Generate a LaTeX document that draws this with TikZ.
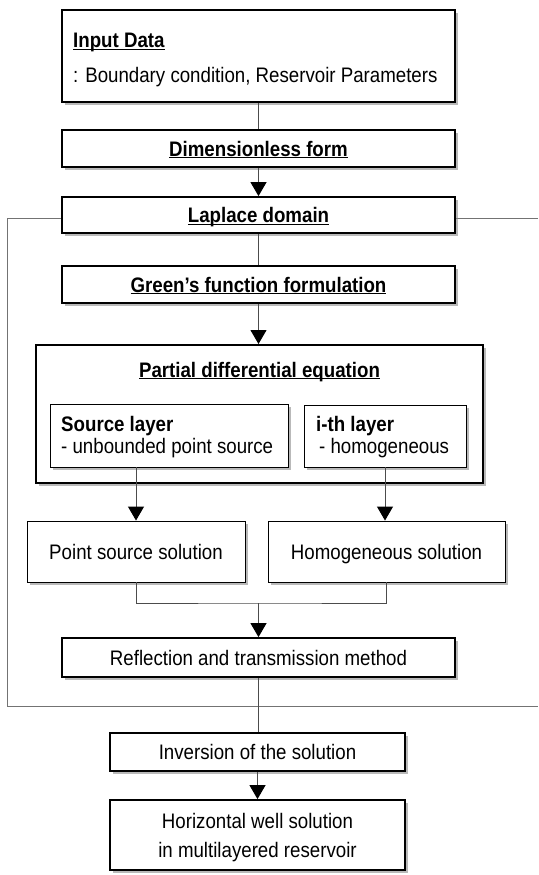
\documentclass[tikz,border=0pt]{standalone}
\usepackage{fontspec}
\setmainfont[FakeStretch=0.89]{Liberation Sans}
\usetikzlibrary{shadows,arrows.meta}
\newcommand\myul[1]{\setbox0=\hbox{#1}\rlap{\rule[-2.4pt]{\wd0}{1.3pt}}\box0}
\begin{document}
\begin{tikzpicture}[x=1pt,y=-1pt,
  box/.style={draw=black, fill=white, line width=1.8pt, inner sep=0pt,
    text height=15pt, text depth=0pt, font=\fontsize{21}{25}\selectfont,
    drop shadow={shadow xshift=3pt, shadow yshift=-3pt, fill=black!50, opacity=0.55}},
  boldbox/.style={box, font=\bfseries\fontsize{21}{25}\selectfont},
  thinbox/.style={box, line width=0.9pt},
  conn/.style={draw=black!70, line width=1pt},
  arr/.style={conn, -{Triangle[width=16pt,length=14pt,color=black]}},
  lbl/.style={inner sep=0pt, anchor=base west, font=\fontsize{21}{25}\selectfont},
  blbl/.style={lbl, font=\bfseries\fontsize{21}{25}\selectfont},
]
\useasboundingbox (0,0) rectangle (538,875);
\draw[draw=black!55, line width=1pt] (538,218) -- (7,218) -- (7,706) -- (538,706);

\node[box, minimum width=393pt, minimum height=92pt] (inp) at (258.5,56) {};
\node[blbl] (inpT) at (73,48) {\myul{Input Data}};
\node[lbl] (inpS) at (73,82) {: Boundary condition, Reservoir Parameters};

\node[boldbox, minimum width=393pt, minimum height=37pt] (dim) at (258.5,148.5) {\myul{Dimensionless form}};
\node[boldbox, minimum width=393pt, minimum height=36pt] (lap) at (258.5,215) {\myul{Laplace domain}};
\node[boldbox, minimum width=393pt, minimum height=37pt] (grn) at (258.5,284.5) {\myul{Green's function formulation}};

\node[box, line width=2pt, minimum width=447pt, minimum height=138pt] (pde) at (259.5,414) {};
\node[blbl, anchor=base] (pdeT) at (259.5,377) {\myul{Partial differential equation}};

\node[thinbox, minimum width=238pt, minimum height=63pt] (src) at (169,435.5) {};
\node[blbl] (srcT) at (61,431) {Source layer};
\node[lbl] (srcS) at (61,453) {- unbounded point source};

\node[thinbox, minimum width=162pt, minimum height=62pt] (ith) at (385,436) {};
\node[blbl] (ithT) at (316,431) {i-th layer};
\node[lbl] (ithS) at (319,453) {- homogeneous};

\node[thinbox, minimum width=218pt, minimum height=61pt] (pss) at (136,551.5) {Point source solution};
\node[thinbox, minimum width=237pt, minimum height=61pt] (hom) at (386.5,551.5) {Homogeneous solution};

\node[box, minimum width=393pt, minimum height=39pt] (ref) at (258.5,657.5) {Reflection and transmission method};
\node[box, minimum width=295pt, minimum height=38pt] (inv) at (257.5,752) {Inversion of the solution};
\node[box, minimum width=295pt, minimum height=70pt] (hor) at (257.5,835) {};
\node[inner sep=0pt, align=center, font=\fontsize{21}{29}\selectfont, anchor=center] (horT) at (257.5,838) {Horizontal well solution\\in multilayered reservoir};

\draw[conn] (inp) -- (dim);
\draw[arr] (dim) -- (lap);
\draw[conn] (lap) -- (grn);
\draw[arr] (grn) -- (grn |- pde.north);
\draw[arr] (src.south -| pss.north) -- (pss.north);
\draw[arr] (ith.south) -- (ith.south |- hom.north);
\coordinate (mrg) at (258.5,603);
\draw[conn] (pss.south) |- (mrg) -| (hom.south);
\draw[arr] (mrg) -- (ref.north);
\draw[conn] (ref.south) -- (ref.south |- inv.north);
\draw[arr] (inv) -- (hor);
\end{tikzpicture}
\end{document}
